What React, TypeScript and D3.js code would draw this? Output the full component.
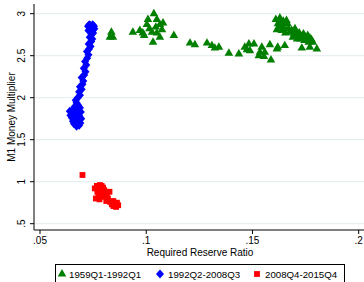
import React from "react";
import * as d3 from "d3";

// 1959Q1-1992Q1 (green triangles)
const period1: [number, number][] = [
  [0.0829, 2.72], [0.0843, 2.72], [0.0836, 2.78],
  [0.0937, 2.78], [0.097, 2.8], [0.0984, 2.77], [0.099, 2.74], [0.1003, 2.87], [0.1008, 2.93],
  [0.1036, 3.0], [0.105, 2.93], [0.1064, 2.87], [0.1079, 2.89], [0.1027, 2.78], [0.105, 2.77],
  [0.1032, 2.66], [0.1064, 2.72], [0.1074, 2.81], [0.1015, 2.82], [0.1045, 2.84], [0.113, 2.74],
  [0.1206, 2.65], [0.1229, 2.63], [0.1286, 2.65], [0.1309, 2.62], [0.1323, 2.59], [0.1342, 2.6],
  [0.1389, 2.53], [0.1436, 2.52], [0.1464, 2.6], [0.1474, 2.57], [0.1483, 2.64], [0.1507, 2.64],
  [0.1488, 2.56], [0.1544, 2.6], [0.1535, 2.54], [0.153, 2.5], [0.1554, 2.49], [0.1558, 2.54],
  [0.1587, 2.45], [0.1582, 2.63], [0.1619, 2.6], [0.1615, 2.58], [0.1652, 2.62],
  [0.161, 2.93], [0.162, 2.88], [0.1615, 2.81], [0.1629, 2.95], [0.1635, 2.9], [0.1643, 2.86],
  [0.1638, 2.8], [0.165, 2.83], [0.166, 2.92], [0.1655, 2.77], [0.1665, 2.88], [0.167, 2.82],
  [0.1625, 2.84], [0.1645, 2.91], [0.1676, 2.78], [0.1685, 2.8], [0.1695, 2.76], [0.1705, 2.79],
  [0.1714, 2.74], [0.172, 2.77], [0.173, 2.73], [0.174, 2.76], [0.175, 2.72], [0.176, 2.74],
  [0.177, 2.71], [0.1778, 2.69], [0.169, 2.72], [0.1725, 2.7], [0.1745, 2.68], [0.1765, 2.66],
  [0.1784, 2.66], [0.1732, 2.59], [0.177, 2.6], [0.1803, 2.58], [0.17, 2.82], [0.171, 2.7],
];

// 1992Q2-2008Q3 (blue diamonds)
const period2: [number, number][] = [
  [0.0672, 1.66], [0.0684, 1.67], [0.066, 1.69], [0.069, 1.7], [0.0655, 1.72], [0.0675, 1.73],
  [0.0694, 1.75], [0.065, 1.76], [0.067, 1.77], [0.0686, 1.78], [0.0643, 1.79], [0.066, 1.81],
  [0.0678, 1.81], [0.0692, 1.83], [0.064, 1.84], [0.0656, 1.86], [0.0672, 1.86], [0.0688, 1.88],
  [0.0662, 1.89], [0.068, 1.91], [0.0672, 1.94], [0.0668, 1.97], [0.0678, 2.0], [0.0688, 2.03],
  [0.0684, 2.07], [0.0696, 2.1], [0.0688, 2.13], [0.07, 2.16], [0.0704, 2.2], [0.0696, 2.24],
  [0.0708, 2.27], [0.0714, 2.31], [0.0706, 2.35], [0.0718, 2.39], [0.0712, 2.43], [0.0722, 2.47],
  [0.0728, 2.51], [0.0721, 2.55], [0.0731, 2.58], [0.0738, 2.61], [0.0729, 2.64], [0.0741, 2.67],
  [0.0746, 2.7], [0.0734, 2.72], [0.0743, 2.75], [0.075, 2.77], [0.0738, 2.79], [0.0728, 2.8],
  [0.0748, 2.81], [0.0756, 2.82], [0.0735, 2.83], [0.0745, 2.84], [0.0726, 2.85], [0.0754, 2.85],
  [0.0738, 2.86], [0.0748, 2.87], [0.0732, 2.87],
];

// 2008Q4-2015Q4 (red squares)
const period3: [number, number][] = [
  [0.07, 1.08],
  [0.0758, 0.92], [0.0768, 0.95], [0.0775, 0.93], [0.0782, 0.96], [0.079, 0.95], [0.0797, 0.93],
  [0.0778, 0.9], [0.077, 0.88], [0.0785, 0.87], [0.0802, 0.9], [0.081, 0.88], [0.0775, 0.84],
  [0.0763, 0.8], [0.078, 0.79], [0.0792, 0.82], [0.0805, 0.84], [0.0815, 0.85], [0.0827, 0.88],
  [0.082, 0.8], [0.0812, 0.77], [0.083, 0.76], [0.0838, 0.73], [0.0845, 0.77], [0.0852, 0.74],
  [0.0862, 0.75], [0.0868, 0.72], [0.0858, 0.7], [0.0846, 0.71],
];

const xTicks = [0.05, 0.1, 0.15, 0.2];
const xTickLabels = [".05", ".1", ".15", ".2"];
const yTicks = [0.5, 1, 1.5, 2, 2.5, 3];
const yTickLabels = [".5", "1", "1.5", "2", "2.5", "3"];
const legendLabels = ["1959Q1-1992Q1", "1992Q2-2008Q3", "2008Q4-2015Q4"];

const W = 364;
const H = 282;
const left = 34;
const bottom = 230;
const top = 4;
const font = "Liberation Sans, Arial, sans-serif";

const x = d3.scaleLinear().domain([0.05, 0.2]).range([40, 358.7]);
const y = d3.scaleLinear().domain([0.5, 3]).range([223.7, 13.7]);

const triangle = d3.symbol(d3.symbolTriangle, 32)();
const diamond = "M0,-4.4L4,0L0,4.4L-4,0Z";
const square = d3.symbol(d3.symbolSquare, 34)();

const GREEN = "#007f00";
const BLUE = "#0000ff";
const RED = "#ff0000";

export default function App() {
  return (
    <svg
      width={W}
      height={H}
      style={{ position: "fixed", left: 0, top: 0, background: "#fff" }}
      fontFamily={font}
    >
      <rect width={W} height={H} fill="#fff" />
      {/* grid */}
      {yTicks.map((t) => (
        <line key={"g" + t} x1={left} x2={W} y1={y(t)} y2={y(t)} stroke="#e8eff1" strokeWidth={1.2} />
      ))}

      {/* points */}
      {period1.map((d, i) => (
        <path key={"a" + i} d={triangle!} transform={`translate(${x(d[0])},${y(d[1])})`} fill={GREEN} />
      ))}
      {period2.map((d, i) => (
        <path key={"b" + i} d={diamond} transform={`translate(${x(d[0])},${y(d[1])})`} fill={BLUE} />
      ))}
      {period3.map((d, i) => (
        <path key={"c" + i} d={square!} transform={`translate(${x(d[0])},${y(d[1])})`} fill={RED} />
      ))}

      {/* axes */}
      <line x1={left} x2={left} y1={top} y2={bottom} stroke="#000" />
      <line x1={left} x2={W} y1={bottom} y2={bottom} stroke="#000" />
      {yTicks.map((t, i) => (
        <g key={"y" + t}>
          <line x1={left - 4} x2={left} y1={y(t)} y2={y(t)} stroke="#000" />
          <text
            transform={`translate(25,${y(t)}) rotate(-90)`}
            textAnchor="middle"
            fontSize={10}
          >
            {yTickLabels[i]}
          </text>
        </g>
      ))}
      {xTicks.map((t, i) => (
        <g key={"x" + t}>
          <line x1={x(t)} x2={x(t)} y1={bottom} y2={bottom + 4} stroke="#000" />
          <text x={x(t)} y={bottom + 14} textAnchor="middle" fontSize={10}>
            {xTickLabels[i]}
          </text>
        </g>
      ))}
      <text x={200} y={256} textAnchor="middle" fontSize={10}>
        Required Reserve Ratio
      </text>
      <text transform={`translate(15,117) rotate(-90)`} textAnchor="middle" fontSize={10}>
        M1 Money Multiplier
      </text>

      {/* legend */}
      <rect x={55.5} y={264.5} width={289} height={30} fill="#fff" stroke="#000" />
      <path d={triangle!} transform="translate(62,274)" fill={GREEN} />
      <text x={69} y={277.5} fontSize={9.7}>{legendLabels[0]}</text>
      <path d={diamond} transform="translate(160,274)" fill={BLUE} />
      <text x={168} y={277.5} fontSize={9.7}>{legendLabels[1]}</text>
      <path d={square!} transform="translate(257,274)" fill={RED} />
      <text x={265} y={277.5} fontSize={9.7}>{legendLabels[2]}</text>
    </svg>
  );
}
